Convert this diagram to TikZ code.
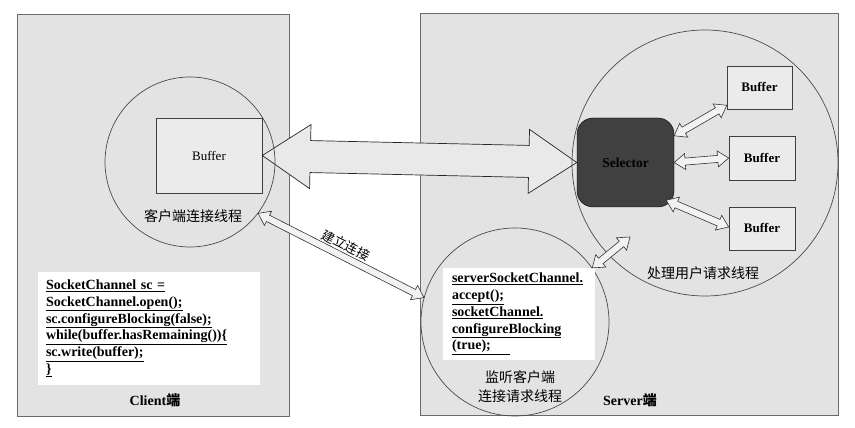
\documentclass[tikz,border=0pt]{standalone}
\usepackage{fontspec}
\setmainfont{Liberation Serif}
\newfontfamily\cjk{Noto Sans CJK SC}
\usetikzlibrary{calc}
\definecolor{panelbg}{HTML}{E3E3E3}
\definecolor{panelline}{HTML}{6A6A6A}
\definecolor{ringline}{HTML}{4A4A4A}
\definecolor{bufbg}{HTML}{EBEBEB}
\definecolor{arrowbg}{HTML}{E9E9E9}
\definecolor{smallarrowbg}{HTML}{F2F2F2}
\definecolor{selfill}{HTML}{404040}
\newcommand{\hollowarrow}[6]{%
  \path (#2) coordinate (ha-a) (#3) coordinate (ha-b);
  \path ($(ha-a)!#6!(ha-b)$) coordinate (ha-a1) ($(ha-b)!#6!(ha-a)$) coordinate (ha-b1);
  \draw[#1] (ha-a) -- ($(ha-a1)!#5!90:(ha-b)$) -- ($(ha-a1)!#4!90:(ha-b)$)
    -- ($(ha-b1)!#4!-90:(ha-a)$) -- ($(ha-b1)!#5!-90:(ha-a)$) -- (ha-b)
    -- ($(ha-b1)!#5!90:(ha-a)$) -- ($(ha-b1)!#4!90:(ha-a)$)
    -- ($(ha-a1)!#4!-90:(ha-b)$) -- ($(ha-a1)!#5!-90:(ha-b)$) -- cycle;
}
\newcommand{\ulc}[1]{\underline{#1}}
\begin{document}
\begin{tikzpicture}[x=1pt,y=1pt,
  panel/.style={draw=panelline, fill=panelbg, line width=0.8pt, inner sep=0},
  ring/.style={circle, draw=ringline, line width=0.7pt, inner sep=0},
  bufbox/.style={draw=black!75, fill=bufbg, line width=0.6pt, inner sep=0,
     font=\fontsize{13}{15}\selectfont},
  codebox/.style={fill=white, inner sep=0, align=left,
     font=\bfseries\fontsize{14}{16.8}\selectfont},
  cjklabel/.style={font=\cjk\fontsize{14}{19}\selectfont, inner sep=0, align=center},
  titlelabel/.style={font=\bfseries\fontsize{14}{17}\selectfont, inner sep=0},
  bigarrow/.style={fill=arrowbg, draw=black!85, line width=0.7pt, line join=miter},
  smallarrow/.style={fill=smallarrowbg, draw=black!80, line width=0.6pt, line join=miter}]
\useasboundingbox (0,0) rectangle (855,428);
\fill[white] (0,0) rectangle (855,428);

% panels
\node[panel, minimum width=272pt, minimum height=402pt] (client) at (153,213) {};
\node[panel, minimum width=418pt, minimum height=402pt] (server) at (629,213.5) {};

% client side
\node[bufbox, minimum width=106pt, minimum height=75pt] (cbuf) at (209,272.5) {Buffer};
\node[cjklabel] (cclabel) at (193,212) {客户端连接线程};
\node[codebox, minimum width=222pt, minimum height=113pt, text width=206pt] (ccode) at (149,99.5)
  {\ulc{SocketChannel sc =}\\ \ulc{SocketChannel.open();}\\ \ulc{sc.configureBlocking(false);}\\
   \ulc{while(buffer.hasRemaining())\{}\\ \ulc{sc.write(buffer);}\\ \ulc{\}}};
\node[titlelabel] (ctitle) at (155,28) {Client{\cjk\bfseries 端}};

% server side
\node[draw=black, fill=selfill, rounded corners=16pt, minimum width=97pt, minimum height=89pt,
  inner sep=0, font=\bfseries\fontsize{13.5}{16}\selectfont] (sel) at (625.5,265.5) {Selector};
\node[bufbox, font=\bfseries\fontsize{13}{15}\selectfont, minimum width=65pt, minimum height=43pt] (b1) at (759.5,340.5) {Buffer};
\node[bufbox, font=\bfseries\fontsize{13}{15}\selectfont, minimum width=66pt, minimum height=44pt] (b2) at (762,270) {Buffer};
\node[bufbox, font=\bfseries\fontsize{13}{15}\selectfont, minimum width=66pt, minimum height=43pt] (b3) at (762,199.5) {Buffer};
\node[cjklabel] (pclabel) at (703,155) {处理用户请求线程};

\node[ring, minimum size=188pt] (lc) at (515,106) {};
\node[codebox, minimum width=152pt, minimum height=92pt, text width=134pt] (scode) at (519,114)
  {\ulc{serverSocketChannel.}\\ \ulc{accept();}\\ \ulc{socketChannel.}\\
   \ulc{configureBlocking}\\ \ulc{(true);\ \ \ \ }};
\node[cjklabel] (lclabel1) at (520,51) {监听客户端};
\node[cjklabel] (lclabel2) at (520,32) {连接请求线程};
\node[titlelabel] (stitle) at (630,28) {Server{\cjk\bfseries 端}};

% big double arrow
\hollowarrow{bigarrow}{cbuf.east}{sel.west}{16pt}{32pt}{48pt}

% circles (outlines on top)
\node[ring, minimum size=170pt] (cc) at (190,266) {};
\node[ring, minimum size=266pt] (pc) at (705,265) {};

% end points
\coordinate (lcend) at (630,191);
\coordinate (s1) at ($(sel.north east)+(0,-18)$);
\coordinate (e1) at ($(b1.south west)+(0,4)$);
\coordinate (s3) at ($(sel.south east)+(-8,7)$);
\coordinate (e3) at ($(b3.west)+(0,1.5)$);

% small double arrows
\hollowarrow{smallarrow}{cc.-37}{lc.165}{3.5pt}{8pt}{11pt}
\path (cc.-37) -- node[sloped, above=5pt, inner sep=0, font=\cjk\fontsize{13}{15}\selectfont] (conn) {建立连接} (lc.165);
\hollowarrow{smallarrow}{lc.35}{lcend}{3.5pt}{8pt}{11pt}
\hollowarrow{smallarrow}{s1}{e1}{3.5pt}{8pt}{11pt}
\hollowarrow{smallarrow}{sel.east}{b2.west}{3.5pt}{8pt}{11pt}
\hollowarrow{smallarrow}{s3}{e3}{3.5pt}{8pt}{11pt}
\end{tikzpicture}
\end{document}
